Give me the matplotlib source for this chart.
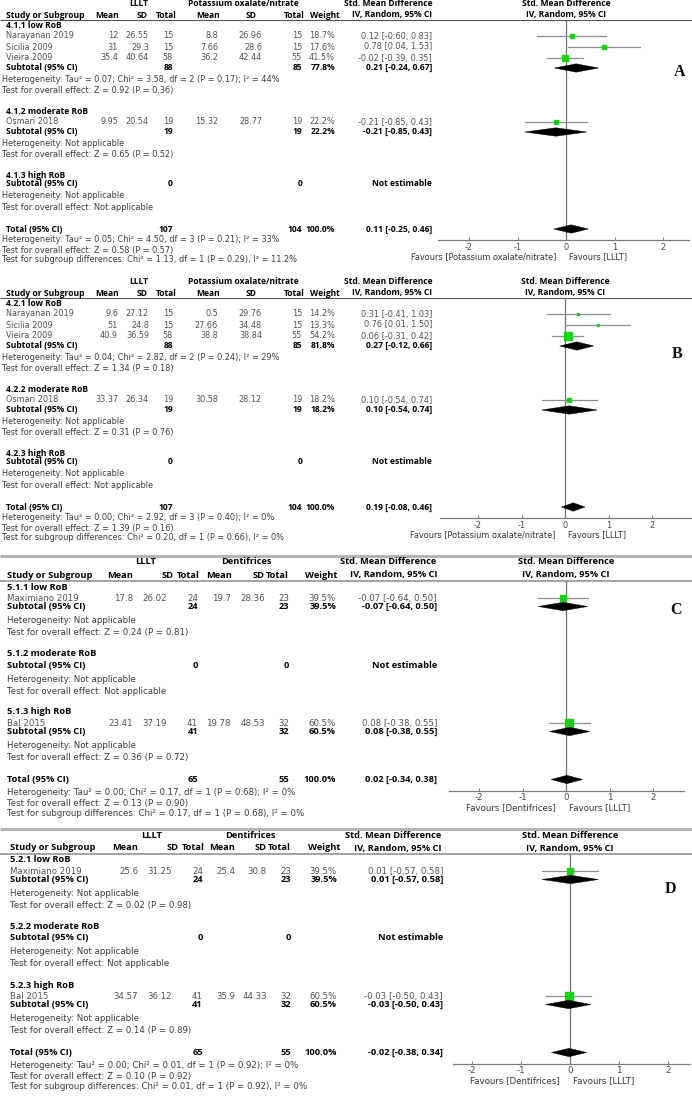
import matplotlib
matplotlib.use("Agg")
import matplotlib.pyplot as plt
from matplotlib import font_manager
from matplotlib.patches import Polygon

plt.rcParams['font.family'] = ['DejaVu Sans']
plt.rcParams['axes.unicode_minus'] = False

W, H = 692, 1096

# ---------------- panel A : LLLT vs potassium oxalate/nitrate ----------------
A_groups = ["4.1.1 low RoB", "4.1.2 moderate RoB", "4.1.3 high RoB"]
A_studies = ["Narayanan 2019", "Sicilia 2009", "Vieira 2009", "Osmari 2018"]
A_study_grp = [0, 0, 0, 1]
A_mean1 = ["12", "31", "35.4", "9.95"]
A_sd1 = ["26.55", "29.3", "40.64", "20.54"]
A_n1 = [15, 15, 58, 19]
A_mean2 = ["8.8", "7.66", "36.2", "15.32"]
A_sd2 = ["26.96", "28.6", "42.44", "28.77"]
A_n2 = [15, 15, 55, 19]
A_weight = [18.7, 17.6, 41.5, 22.2]
A_smd = [0.12, 0.78, -0.02, -0.21]
A_lo = [-0.60, 0.04, -0.39, -0.85]
A_hi = [0.83, 1.53, 0.35, 0.43]
A_sub_n1 = [88, 19, 0]
A_sub_n2 = [85, 19, 0]
A_sub_weight = [77.8, 22.2, None]
A_sub_smd = [0.21, -0.21, None]
A_sub_lo = [-0.24, -0.85, None]
A_sub_hi = [0.67, 0.43, None]
A_het = ["Heterogeneity: Tau² = 0.07; Chi² = 3.58, df = 2 (P = 0.17); I² = 44%",
         "Heterogeneity: Not applicable",
         "Heterogeneity: Not applicable"]
A_test = ["Test for overall effect: Z = 0.92 (P = 0.36)",
          "Test for overall effect: Z = 0.65 (P = 0.52)",
          "Test for overall effect: Not applicable"]
A_total = [107, 104, 100.0, 0.11, -0.25, 0.46]
A_total_text = ["Heterogeneity: Tau² = 0.05; Chi² = 4.50, df = 3 (P = 0.21); I² = 33%",
                "Test for overall effect: Z = 0.58 (P = 0.57)",
                "Test for subgroup differences: Chi² = 1.13, df = 1 (P = 0.29), I² = 11.2%"]

# ---------------- panel B ----------------
B_groups = ["4.2.1 low RoB", "4.2.2 moderate RoB", "4.2.3 high RoB"]
B_studies = ["Narayanan 2019", "Sicilia 2009", "Vieira 2009", "Osmari 2018"]
B_study_grp = [0, 0, 0, 1]
B_mean1 = ["9.6", "51", "40.9", "33.37"]
B_sd1 = ["27.12", "24.8", "36.59", "26.34"]
B_n1 = [15, 15, 58, 19]
B_mean2 = ["0.5", "27.66", "38.8", "30.58"]
B_sd2 = ["29.76", "34.48", "38.84", "28.12"]
B_n2 = [15, 15, 55, 19]
B_weight = [14.2, 13.3, 54.2, 18.2]
B_smd = [0.31, 0.76, 0.06, 0.10]
B_lo = [-0.41, 0.01, -0.31, -0.54]
B_hi = [1.03, 1.50, 0.42, 0.74]
B_sub_n1 = [88, 19, 0]
B_sub_n2 = [85, 19, 0]
B_sub_weight = [81.8, 18.2, None]
B_sub_smd = [0.27, 0.10, None]
B_sub_lo = [-0.12, -0.54, None]
B_sub_hi = [0.66, 0.74, None]
B_het = ["Heterogeneity: Tau² = 0.04; Chi² = 2.82, df = 2 (P = 0.24); I² = 29%",
         "Heterogeneity: Not applicable",
         "Heterogeneity: Not applicable"]
B_test = ["Test for overall effect: Z = 1.34 (P = 0.18)",
          "Test for overall effect: Z = 0.31 (P = 0.76)",
          "Test for overall effect: Not applicable"]
B_total = [107, 104, 100.0, 0.19, -0.08, 0.46]
B_total_text = ["Heterogeneity: Tau² = 0.00; Chi² = 2.92, df = 3 (P = 0.40); I² = 0%",
                "Test for overall effect: Z = 1.39 (P = 0.16)",
                "Test for subgroup differences: Chi² = 0.20, df = 1 (P = 0.66), I² = 0%"]

# ---------------- panel C : LLLT vs dentifrices ----------------
C_groups = ["5.1.1 low RoB", "5.1.2 moderate RoB", "5.1.3 high RoB"]
C_studies = ["Maximiano 2019", "Bal 2015"]
C_study_grp = [0, 2]
C_mean1 = ["17.8", "23.41"]
C_sd1 = ["26.02", "37.19"]
C_n1 = [24, 41]
C_mean2 = ["19.7", "19.78"]
C_sd2 = ["28.36", "48.53"]
C_n2 = [23, 32]
C_weight = [39.5, 60.5]
C_smd = [-0.07, 0.08]
C_lo = [-0.64, -0.38]
C_hi = [0.50, 0.55]
C_sub_n1 = [24, 0, 41]
C_sub_n2 = [23, 0, 32]
C_sub_weight = [39.5, None, 60.5]
C_sub_smd = [-0.07, None, 0.08]
C_sub_lo = [-0.64, None, -0.38]
C_sub_hi = [0.50, None, 0.55]
C_het = ["Heterogeneity: Not applicable"] * 3
C_test = ["Test for overall effect: Z = 0.24 (P = 0.81)",
          "Test for overall effect: Not applicable",
          "Test for overall effect: Z = 0.36 (P = 0.72)"]
C_total = [65, 55, 100.0, 0.02, -0.34, 0.38]
C_total_text = ["Heterogeneity: Tau² = 0.00; Chi² = 0.17, df = 1 (P = 0.68); I² = 0%",
                "Test for overall effect: Z = 0.13 (P = 0.90)",
                "Test for subgroup differences: Chi² = 0.17, df = 1 (P = 0.68), I² = 0%"]

# ---------------- panel D ----------------
D_groups = ["5.2.1 low RoB", "5.2.2 moderate RoB", "5.2.3 high RoB"]
D_studies = ["Maximiano 2019", "Bal 2015"]
D_study_grp = [0, 2]
D_mean1 = ["25.6", "34.57"]
D_sd1 = ["31.25", "36.12"]
D_n1 = [24, 41]
D_mean2 = ["25.4", "35.9"]
D_sd2 = ["30.8", "44.33"]
D_n2 = [23, 32]
D_weight = [39.5, 60.5]
D_smd = [0.01, -0.03]
D_lo = [-0.57, -0.50]
D_hi = [0.58, 0.43]
D_sub_n1 = [24, 0, 41]
D_sub_n2 = [23, 0, 32]
D_sub_weight = [39.5, None, 60.5]
D_sub_smd = [0.01, None, -0.03]
D_sub_lo = [-0.57, None, -0.50]
D_sub_hi = [0.58, None, 0.43]
D_het = ["Heterogeneity: Not applicable"] * 3
D_test = ["Test for overall effect: Z = 0.02 (P = 0.98)",
          "Test for overall effect: Not applicable",
          "Test for overall effect: Z = 0.14 (P = 0.89)"]
D_total = [65, 55, 100.0, -0.02, -0.38, 0.34]
D_total_text = ["Heterogeneity: Tau² = 0.00; Chi² = 0.01, df = 1 (P = 0.92); I² = 0%",
                "Test for overall effect: Z = 0.10 (P = 0.92)",
                "Test for subgroup differences: Chi² = 0.01, df = 1 (P = 0.92), I² = 0%"]

TICKS = [-2, -1, 0, 1, 2]
HEAD2 = ["Mean", "SD", "Total", "Mean", "SD", "Total", "Weight", "IV, Random, 95% CI"]

# layout (pixels)
GAPS_AB = dict(group_study=11, study_study=11, study_sub=10, group_sub=9, sub_het=12,
               het_test=11, test_group=20, test_total=22, total_het=11, het_test2=10, test_sg=10)
GAPS_CD = dict(group_study=11.5, study_study=12, study_sub=8, group_sub=11.5, sub_het=14,
               het_test=12, test_group=21, test_total=22, total_het=13, het_test2=11, test_sg=10)

COLS_AB = dict(study=6, het=2, m1=118, sd1=149, n1=173, m2=218, sd2=262, n2=302, w=335, ci=432,
               h2=[119, 148, 177, 220, 257, 305, 340, 432], h1=[139, 243, 388])
COLS_C = dict(study=7, het=7, m1=133, sd1=167, n1=198, m2=231, sd2=265, n2=289, w=336, ci=437,
              h2=[133, 174, 200, 232, 265, 289, 337, 437], h1=[146, 246, 388])
COLS_D = dict(study=10, het=10, m1=138, sd1=172, n1=203, m2=235, sd2=267, n2=291, w=337, ci=443,
              h2=[138, 179, 205, 235, 267, 291, 340, 442], h1=[152, 250, 393])

GREEN = '#14d214'
TXT = '#505050'
HET = '#3a3a3a'


def pick_bold_family():
    # first installed family that has a real bold face
    for fam in ['Open Sans', 'Lato', 'Roboto', 'Noto Sans', 'Liberation Sans']:
        try:
            path = font_manager.findfont(font_manager.FontProperties(family=fam, weight='bold'),
                                         fallback_to_default=False)
        except Exception:
            continue
        if 'bold' in path.lower():
            return fam
    return 'DejaVu Sans'


BOLD_FAMILY = pick_bold_family()


def fit_size(fig, text, target_px, bold=False):
    t = fig.text(0, 0, text, fontsize=10, fontweight='bold' if bold else 'normal',
                 family=BOLD_FAMILY if bold else 'DejaVu Sans')
    w = t.get_window_extent(renderer=fig.canvas.get_renderer()).width
    t.remove()
    return 10.0 * target_px / w


def draw_panel(fig, bg, p):
    c = p['cols']
    g = p['gaps']
    fs, fsb = p['fs'], p['fsb']
    g1 = p['g1']
    ctrl = p['ctrl']

    def txt(x, y, s, ha='left', bold=False, color=None):
        if bold:
            bg.text(x, y, s, ha=ha, va='center', fontsize=fsb, fontweight='bold',
                    family=BOLD_FAMILY, color=color or '#000000')
        else:
            bg.text(x, y, s, ha=ha, va='center', fontsize=fs, color=color or TXT)

    # header
    if p['sep'] is not None:
        bg.plot([0, W], [g1 + p['sep'], g1 + p['sep']], color='#b4b4b4', lw=2.2,
                solid_capstyle='butt')
    h1y, h2y, hly = g1 + p['h1'], g1 + p['h2'], g1 + p['hl']
    for x, s in zip(c['h1'], ["LLLT", ctrl, "Std. Mean Difference"]):
        txt(x, h1y, s, ha='center', bold=True)
    txt(c['study'], h2y, "Study or Subgroup", bold=True)
    for x, s in zip(c['h2'], HEAD2):
        txt(x, h2y, s, ha='right', bold=True)
    txt(p['zero'], h1y, "Std. Mean Difference", ha='center', bold=True)
    txt(p['zero'], h2y, "IV, Random, 95% CI", ha='center', bold=True)
    bg.plot([0, W], [hly, hly], color=p['hl_color'], lw=p['hl_lw'], solid_capstyle='butt')

    studies = []   # (y, smd, lo, hi, weight)
    diamonds = []  # (y, smd, lo, hi)
    y = g1
    for gi, gname in enumerate(p['groups']):
        if gi > 0:
            y += g['test_group']
        txt(c['study'], y, gname, bold=True)
        prev = 'group'
        for si, sg in enumerate(p['study_grp']):
            if sg != gi:
                continue
            y += g['group_study'] if prev == 'group' else g['study_study']
            prev = 'study'
            txt(c['study'], y, p['studies'][si])
            txt(c['m1'], y, p['mean1'][si], ha='right')
            txt(c['sd1'], y, p['sd1'][si], ha='right')
            txt(c['n1'], y, str(p['n1'][si]), ha='right')
            txt(c['m2'], y, p['mean2'][si], ha='right')
            txt(c['sd2'], y, p['sd2'][si], ha='right')
            txt(c['n2'], y, str(p['n2'][si]), ha='right')
            txt(c['w'], y, f"{p['weight'][si]:.1f}%", ha='right')
            txt(c['ci'], y, f"{p['smd'][si]:.2f} [{p['lo'][si]:.2f}, {p['hi'][si]:.2f}]", ha='right')
            studies.append((y, p['smd'][si], p['lo'][si], p['hi'][si], p['weight'][si]))
        y += g['study_sub'] if prev == 'study' else g['group_sub']
        txt(c['study'], y, "Subtotal (95% CI)", bold=True)
        txt(c['n1'], y, str(p['sub_n1'][gi]), ha='right', bold=True)
        txt(c['n2'], y, str(p['sub_n2'][gi]), ha='right', bold=True)
        if p['sub_smd'][gi] is None:
            txt(c['ci'], y, "Not estimable", ha='right', bold=True)
        else:
            txt(c['w'], y, f"{p['sub_weight'][gi]:.1f}%", ha='right', bold=True)
            txt(c['ci'], y, f"{p['sub_smd'][gi]:.2f} [{p['sub_lo'][gi]:.2f}, {p['sub_hi'][gi]:.2f}]",
                ha='right', bold=True)
            diamonds.append((y, p['sub_smd'][gi], p['sub_lo'][gi], p['sub_hi'][gi]))
        y += g['sub_het']
        txt(c['het'], y, p['het'][gi], color=HET)
        y += g['het_test']
        txt(c['het'], y, p['test'][gi], color=HET)

    y += g['test_total']
    n1, n2, wt, est, lo, hi = p['total']
    txt(c['study'], y, "Total (95% CI)", bold=True)
    txt(c['n1'], y, str(n1), ha='right', bold=True)
    txt(c['n2'], y, str(n2), ha='right', bold=True)
    txt(c['w'], y, f"{wt:.1f}%", ha='right', bold=True)
    txt(c['ci'], y, f"{est:.2f} [{lo:.2f}, {hi:.2f}]", ha='right', bold=True)
    diamonds.append((y, est, lo, hi))
    axis_y = y + p['axis_off']
    y += g['total_het']
    txt(c['het'], y, p['total_text'][0], color=HET)
    y += g['het_test2']
    txt(c['het'], y, p['total_text'][1], color=HET)
    y += g['test_sg']
    txt(c['het'], y, p['total_text'][2], color=HET)

    # forest plot, x in SMD units, y in pixel rows
    xl, xr = p['axis_x']
    ax = fig.add_axes([xl / W, 1 - axis_y / H, (xr - xl) / W, (axis_y - hly) / H])
    ax.set_facecolor('none')
    ax.set_xlim((xl - p['zero']) / p['ppu'], (xr - p['zero']) / p['ppu'])
    ax.set_ylim(axis_y, hly)
    for s in ['top', 'left', 'right']:
        ax.spines[s].set_visible(False)
    ax.spines['bottom'].set_color('#7a7a7a')
    ax.spines['bottom'].set_linewidth(0.9)
    ax.set_yticks([])
    ax.set_xticks(TICKS)
    ax.set_xticklabels([str(t) for t in TICKS])
    ax.tick_params(axis='x', direction='in', length=2.5, width=0.7, color='#7a7a7a',
                   pad=2, labelsize=fs, labelcolor='#444444')
    ax.axvline(0, color='#707070', lw=0.9, zorder=1)
    for sy, est, lo, hi, w in studies:
        ax.plot([lo, hi], [sy, sy], color='#8c8c8c', lw=0.9, zorder=2)
        side = 1 + 0.12 * w
        ax.plot(est, sy, marker='s', ms=side * 0.72, color=GREEN, mec=GREEN, zorder=3)
    for dy, est, lo, hi in diamonds:
        ax.add_patch(Polygon([(lo, dy), (est, dy - 4.2), (hi, dy), (est, dy + 4.2)],
                             closed=True, facecolor='black', edgecolor='black', lw=0.3, zorder=3))

    fy = axis_y + 17
    bg.text(p['zero'] - 10, fy, f"Favours [{ctrl}]", ha='right', va='center',
            fontsize=fs, color='#333333')
    bg.text(p['zero'] + 3, fy, "Favours [LLLT]", ha='left', va='center',
            fontsize=fs, color='#333333')

    lx, ly = p['label']
    bg.text(lx, ly, p['name'], ha='center', va='center', fontsize=11.5, fontweight='bold',
            family='Liberation Serif', color='#111111')


def main():
    fig = plt.figure(figsize=(W / 100, H / 100), dpi=100)
    fig.patch.set_facecolor('white')
    bg = fig.add_axes([0, 0, 1, 1])
    bg.set_xlim(0, W)
    bg.set_ylim(H, 0)
    bg.axis('off')

    fs_ab = fit_size(fig, A_het[0], 274)
    fs_cd = fs_ab * 126 / 117
    fsb_ab = fit_size(fig, "Study or Subgroup", 78, bold=True)
    fsb_cd = fit_size(fig, "Study or Subgroup", 85, bold=True)

    ab_layout = dict(gaps=GAPS_AB, cols=COLS_AB, fs=fs_ab, fsb=fsb_ab, sep=None, h1=-21, h2=-10,
                     hl=-5, hl_color='#555555', hl_lw=0.8, axis_off=11,
                     ctrl="Potassium oxalate/nitrate")
    cd_layout = dict(gaps=GAPS_CD, fs=fs_cd, fsb=fsb_cd, sep=-31, h1=-25, h2=-12, hl=-6.5,
                     hl_color='#8a8a8a', hl_lw=1.1, axis_off=11, ctrl="Dentifrices")

    panels = [
        dict(ab_layout, name='A', g1=25, zero=566, ppu=48.5, axis_x=(438, 689), label=(680, 72),
             groups=A_groups, studies=A_studies, study_grp=A_study_grp, mean1=A_mean1, sd1=A_sd1,
             n1=A_n1, mean2=A_mean2, sd2=A_sd2, n2=A_n2, weight=A_weight, smd=A_smd, lo=A_lo,
             hi=A_hi, sub_n1=A_sub_n1, sub_n2=A_sub_n2, sub_weight=A_sub_weight,
             sub_smd=A_sub_smd, sub_lo=A_sub_lo, sub_hi=A_sub_hi, het=A_het, test=A_test,
             total=A_total, total_text=A_total_text),
        dict(ab_layout, name='B', g1=303, zero=565, ppu=43.5, axis_x=(440, 692), label=(677, 354),
             groups=B_groups, studies=B_studies, study_grp=B_study_grp, mean1=B_mean1, sd1=B_sd1,
             n1=B_n1, mean2=B_mean2, sd2=B_sd2, n2=B_n2, weight=B_weight, smd=B_smd, lo=B_lo,
             hi=B_hi, sub_n1=B_sub_n1, sub_n2=B_sub_n2, sub_weight=B_sub_weight,
             sub_smd=B_sub_smd, sub_lo=B_sub_lo, sub_hi=B_sub_hi, het=B_het, test=B_test,
             total=B_total, total_text=B_total_text),
        dict(cd_layout, name='C', cols=COLS_C, g1=587, zero=566, ppu=43.5, axis_x=(449, 684),
             label=(676, 610),
             groups=C_groups, studies=C_studies, study_grp=C_study_grp, mean1=C_mean1, sd1=C_sd1,
             n1=C_n1, mean2=C_mean2, sd2=C_sd2, n2=C_n2, weight=C_weight, smd=C_smd, lo=C_lo,
             hi=C_hi, sub_n1=C_sub_n1, sub_n2=C_sub_n2, sub_weight=C_sub_weight,
             sub_smd=C_sub_smd, sub_lo=C_sub_lo, sub_hi=C_sub_hi, het=C_het, test=C_test,
             total=C_total, total_text=C_total_text),
        dict(cd_layout, name='D', cols=COLS_D, g1=860, zero=570, ppu=49, axis_x=(453, 690),
             label=(670, 889),
             groups=D_groups, studies=D_studies, study_grp=D_study_grp, mean1=D_mean1, sd1=D_sd1,
             n1=D_n1, mean2=D_mean2, sd2=D_sd2, n2=D_n2, weight=D_weight, smd=D_smd, lo=D_lo,
             hi=D_hi, sub_n1=D_sub_n1, sub_n2=D_sub_n2, sub_weight=D_sub_weight,
             sub_smd=D_sub_smd, sub_lo=D_sub_lo, sub_hi=D_sub_hi, het=D_het, test=D_test,
             total=D_total, total_text=D_total_text),
    ]
    for p in panels:
        draw_panel(fig, bg, p)

    fig.savefig('out.png', dpi=100, facecolor='white')


if __name__ == "__main__":
    main()
